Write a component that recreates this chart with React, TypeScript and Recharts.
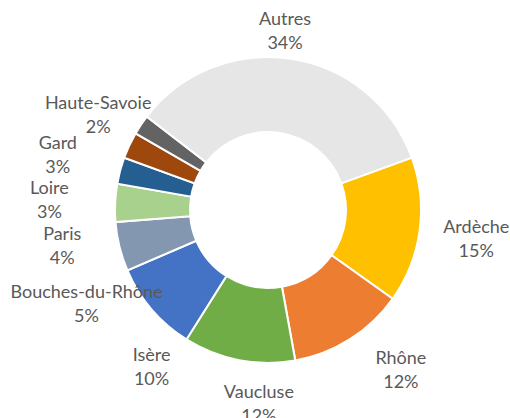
import React from "react";
import { PieChart, Pie, Cell } from "recharts";

const departements = [
  "Ardèche",
  "Rhône",
  "Vaucluse",
  "Isère",
  "Bouches-du-Rhône",
  "Paris",
  "Loire",
  "Gard",
  "Haute-Savoie",
  "Autres",
];
const parts = [15.4, 12.3, 11.8, 9.6, 5.2, 4.0, 2.8, 2.8, 2.1, 34.0];

const colors = [
  "#FFC000",
  "#ED7D31",
  "#70AD47",
  "#4472C4",
  "#8497B0",
  "#A9D18E",
  "#255E91",
  "#9E480E",
  "#636363",
  "#E6E6E6",
];

// Excel "best fit" placement: shift from the radial anchor
const labelNudge: [number, number][] = [
  [20, -3],
  [31, -6],
  [27, 1],
  [28, 28],
  [3, 42],
  [-16, 39],
  [-35, 33],
  [-38, 19],
  [-12, 5],
  [-12, 3],
];

const data = departements.map((name, i) => ({ name, value: parts[i] }));

const RADIAN = Math.PI / 180;

const renderLabel = (props: any) => {
  const { cx, cy, midAngle, outerRadius, percent, index, name } = props;
  const r = outerRadius + 37;
  const [dx, dy] = labelNudge[index];
  const x = cx + r * Math.cos(-midAngle * RADIAN) + dx;
  const y = cy + r * Math.sin(-midAngle * RADIAN) + dy;
  return (
    <text
      x={x}
      y={y}
      textAnchor="middle"
      fill="#595959"
      fontSize={18}
      fontFamily="Lato, sans-serif"
    >
      <tspan x={x} y={y}>
        {name}
      </tspan>
      <tspan x={x} y={y + 24}>
        {`${Math.round(percent * 100)}%`}
      </tspan>
    </text>
  );
};

export default function App() {
  return (
    <div style={{ position: "absolute", left: 0, top: 0, width: 510, height: 418, background: "#fff" }}>
      <PieChart width={510} height={418} margin={{ top: 0, right: 0, bottom: 0, left: 0 }}>
        <Pie
          data={data}
          dataKey="value"
          nameKey="name"
          cx={268}
          cy={210}
          innerRadius={78}
          outerRadius={153}
          startAngle={20}
          endAngle={-340}
          stroke="#fff"
          strokeWidth={2}
          label={renderLabel}
          labelLine={false}
          isAnimationActive={false}
        >
          {data.map((d, i) => (
            <Cell key={d.name} fill={colors[i]} />
          ))}
        </Pie>
      </PieChart>
    </div>
  );
}
